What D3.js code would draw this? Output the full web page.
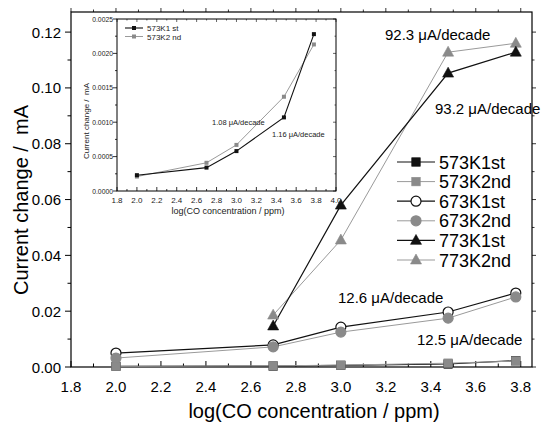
<!DOCTYPE html>
<html><head><meta charset="utf-8">
<script src="https://cdn.jsdelivr.net/npm/d3@7"></script>
<style>body{margin:0;background:#fff}svg{display:block;font-family:Arial,"Liberation Sans",sans-serif}</style>
</head><body>
<svg id="c" width="542" height="423"></svg>
<script>
// ---- data ----
const logConc = [2.0, 2.699, 3.0, 3.477, 3.778];
const s573K1st = [0.00023, 0.00034, 0.00058, 0.00107, 0.00228];
const s573K2nd = [0.00021, 0.00041, 0.00067, 0.00137, 0.00213];
const s673K1st = [0.0050, 0.0079, 0.0143, 0.0197, 0.0265];
const s673K2nd = [0.0032, 0.0072, 0.0125, 0.0175, 0.0251];
const log773 = [2.699, 3.0, 3.477, 3.778];
const s773K1st = [0.0147, 0.0580, 0.1053, 0.1128];
const s773K2nd = [0.0186, 0.0455, 0.1128, 0.1160];
const seriesNames = ["573K1st","573K2nd","673K1st","673K2nd","773K1st","773K2nd"];
const xTicks = [1.8,2.0,2.2,2.4,2.6,2.8,3.0,3.2,3.4,3.6,3.8];
const yTicks = [0,0.02,0.04,0.06,0.08,0.10,0.12];
const insetXTicks = [1.8,2.0,2.2,2.4,2.6,2.8,3.0,3.2,3.4,3.6,3.8,4.0];
const insetYTicks = [0,0.0005,0.0010,0.0015,0.0020,0.0025];
const insetNames = ["573K1 st","573K2 nd"];
const annotations = [
  {t:"92.3 \u03bcA/decade"},{t:"93.2 \u03bcA/decade"},{t:"12.6 \u03bcA/decade"},{t:"12.5 \u03bcA/decade"}];
const insetAnn = ["1.08 \u03bcA/decade","1.16 \u03bcA/decade"];

const svg = d3.select("#c");
const BLK="#111", GRY="#8a8a8a", GRYL="#9a9a9a";

// ---- main scales ----
const L=71,R=532,T=12,B=367;
const x = d3.scaleLinear().domain([1.8,3.85]).range([L,R]);
const y = d3.scaleLinear().domain([0,0.1272]).range([B,T]);

const g = svg.append("g");
// frame
g.append("rect").attr("x",L).attr("y",T).attr("width",R-L).attr("height",B-T)
 .attr("fill","none").attr("stroke","#000").attr("stroke-width",1.2);

// x ticks (inside, bottom)
const xMinor = d3.range(18,39).map(d=>d/10);
g.selectAll(".xm").data(xMinor).join("line")
 .attr("x1",d=>x(d)).attr("x2",d=>x(d)).attr("y1",B).attr("y2",d=>B-(Math.round(d*10)%2===0?6:3.5))
 .attr("stroke","#000").attr("stroke-width",1);
g.selectAll(".xt").data(xMinor).join("line")
 .attr("x1",d=>x(d)).attr("x2",d=>x(d)).attr("y1",T).attr("y2",d=>T-(Math.round(d*10)%2===0?4:2.5))
 .attr("stroke","#000").attr("stroke-width",0.8);
g.selectAll(".xl").data(xTicks).join("text")
 .attr("x",d=>x(d)).attr("y",392).attr("text-anchor","middle").attr("font-size",15)
 .text(d=>d3.format(".1f")(d));
// y ticks (outside, left)
const yMinor = d3.range(0,13).map(d=>d/100);
g.selectAll(".ym").data(yMinor).join("line")
 .attr("x1",L).attr("x2",d=>L-(Math.round(d*100)%2===0?6:3.5)).attr("y1",d=>y(d)).attr("y2",d=>y(d))
 .attr("stroke","#000").attr("stroke-width",1);
g.selectAll(".yr").data(yMinor).join("line")
 .attr("x1",R).attr("x2",d=>R+(Math.round(d*100)%2===0?4:2.5)).attr("y1",d=>y(d)).attr("y2",d=>y(d))
 .attr("stroke","#000").attr("stroke-width",0.8);
g.selectAll(".yl").data(yTicks).join("text")
 .attr("x",61).attr("y",d=>y(d)+5.5).attr("text-anchor","end").attr("font-size",15)
 .text(d=>d3.format(".2f")(d));
// axis titles
g.append("text").attr("x",314).attr("y",418).attr("text-anchor","middle").attr("font-size",20)
 .text("log(CO concentration / ppm)");
g.append("text").attr("transform","translate(28,200) rotate(-90)").attr("text-anchor","middle")
 .attr("font-size",20).attr("xml:space","preserve").text("Current change /  mA");

// ---- markers ----
function marker(sel, type, fill, stroke, s){
  if(type==="square") sel.append("rect").attr("x",-s/2).attr("y",-s/2).attr("width",s).attr("height",s).attr("fill",fill).attr("stroke",stroke).attr("stroke-width",0.6);
  else if(type==="circle") sel.append("circle").attr("r",s/2).attr("fill",fill).attr("stroke",stroke).attr("stroke-width",1.2);
  else if(type==="tri"){ const h=s*0.9; sel.append("path").attr("d",`M0,${-h*0.6}L${s/2},${h*0.4}L${-s/2},${h*0.4}Z`).attr("fill",fill).attr("stroke",stroke).attr("stroke-width",0.6);}
}
const mainSeries = [
  {name:seriesNames[0],xs:logConc,ys:s573K1st,line:BLK,lw:1.2,type:"square",fill:BLK,stroke:BLK,s:8.5},
  {name:seriesNames[1],xs:logConc,ys:s573K2nd,line:GRYL,lw:1,type:"square",fill:GRY,stroke:GRY,s:8.5},
  {name:seriesNames[2],xs:logConc,ys:s673K1st,line:BLK,lw:1.2,type:"circle",fill:"#fff",stroke:BLK,s:10},
  {name:seriesNames[3],xs:logConc,ys:s673K2nd,line:GRYL,lw:1,type:"circle",fill:GRY,stroke:GRY,s:10},
  {name:seriesNames[4],xs:log773,ys:s773K1st,line:BLK,lw:1.2,type:"tri",fill:BLK,stroke:BLK,s:11},
  {name:seriesNames[5],xs:log773,ys:s773K2nd,line:GRYL,lw:1,type:"tri",fill:GRY,stroke:GRY,s:11}
];
const lineGen = d3.line().x(d=>x(d[0])).y(d=>y(d[1]));
const drawOrder=[0,1,2,3,5,4];
drawOrder.forEach(i=>{const s=mainSeries[i];
  const pts=s.xs.map((v,j)=>[v,s.ys[j]]);
  g.append("path").attr("d",lineGen(pts)).attr("fill","none").attr("stroke",s.line).attr("stroke-width",s.lw);
});
drawOrder.forEach(i=>{const s=mainSeries[i];
  s.xs.forEach((v,j)=>{ const m=g.append("g").attr("transform",`translate(${x(v)},${y(s.ys[j])})`); marker(m,s.type,s.fill,s.stroke,s.s); });
});

// legend
mainSeries.forEach((s,i)=>{
  const ly=162+i*19.6;
  const lg=g.append("g");
  lg.append("line").attr("x1",397).attr("x2",435).attr("y1",ly).attr("y2",ly).attr("stroke",s.line).attr("stroke-width",s.lw);
  marker(lg.append("g").attr("transform",`translate(416,${ly})`),s.type,s.fill,s.stroke,s.s);
  lg.append("text").attr("x",439).attr("y",ly+6.5).attr("font-size",18).text(s.name);
});

// annotations
const annPos=[[385,40],[435,114],[338,303],[417,345]];
annotations.forEach((a,i)=>g.append("text").attr("x",annPos[i][0]).attr("y",annPos[i][1]).attr("font-size",15).text(a.t));

// ---- inset ----
const iL=117,iR=336,iT=19,iB=191;
const ix=d3.scaleLinear().domain([1.8,4.0]).range([iL,iR]);
const iy=d3.scaleLinear().domain([0,0.0025]).range([iB,iT]);
const ig=svg.append("g");
ig.append("rect").attr("x",iL).attr("y",iT).attr("width",iR-iL).attr("height",iB-iT).attr("fill","#fff").attr("stroke","#000").attr("stroke-width",1);
const ixMinor=d3.range(18,41).map(d=>d/10);
ig.selectAll(".a").data(ixMinor).join("line").attr("x1",d=>ix(d)).attr("x2",d=>ix(d)).attr("y1",iB).attr("y2",d=>iB-(Math.round(d*10)%2===0?4:2)).attr("stroke","#000").attr("stroke-width",0.8);
ig.selectAll(".b").data(ixMinor).join("line").attr("x1",d=>ix(d)).attr("x2",d=>ix(d)).attr("y1",iT).attr("y2",d=>iT+(Math.round(d*10)%2===0?3:1.5)).attr("stroke","#000").attr("stroke-width",0.6);
const iyMinor=d3.range(0,11).map(d=>d*0.00025);
ig.selectAll(".c").data(iyMinor).join("line").attr("x1",iL).attr("x2",(d,i)=>iL-(i%2===0?4:2)).attr("y1",d=>iy(d)).attr("y2",d=>iy(d)).attr("stroke","#000").attr("stroke-width",0.8);
ig.selectAll(".d").data(iyMinor).join("line").attr("x1",iR).attr("x2",(d,i)=>iR-(i%2===0?3:1.5)).attr("y1",d=>iy(d)).attr("y2",d=>iy(d)).attr("stroke","#000").attr("stroke-width",0.6);
ig.selectAll(".e").data(insetXTicks).join("text").attr("x",d=>ix(d)).attr("y",203).attr("text-anchor","middle").attr("font-size",8).attr("fill","#222").text(d=>d3.format(".1f")(d));
ig.selectAll(".f").data(insetYTicks).join("text").attr("x",113).attr("y",d=>iy(d)+2.5).attr("text-anchor","end").attr("font-size",6.8).attr("fill","#222").text(d=>d3.format(".4f")(d));
ig.append("text").attr("x",228).attr("y",214).attr("text-anchor","middle").attr("font-size",9).attr("fill","#222").text("log(CO concentration / ppm)");
ig.append("text").attr("transform","translate(89,121) rotate(-90)").attr("text-anchor","middle").attr("font-size",8).attr("fill","#222").attr("xml:space","preserve").text("Current change /  mA");
const iline=d3.line().x(d=>ix(d[0])).y(d=>iy(d[1]));
const insetSeries=[{ys:s573K1st,c:BLK,lw:1.1},{ys:s573K2nd,c:GRYL,lw:1}];
[1,0].forEach(i=>{const s=insetSeries[i];
  ig.append("path").attr("d",iline(logConc.map((v,j)=>[v,s.ys[j]]))).attr("fill","none").attr("stroke",s.c).attr("stroke-width",s.lw);
});
[1,0].forEach(i=>{const s=insetSeries[i];
  logConc.forEach((v,j)=>ig.append("rect").attr("x",ix(v)-2).attr("y",iy(s.ys[j])-2).attr("width",4).attr("height",4).attr("fill",i===0?BLK:GRY));
});
insetNames.forEach((n,i)=>{const ly=28+i*8.5; const s=insetSeries[i];
  ig.append("line").attr("x1",125).attr("x2",143).attr("y1",ly).attr("y2",ly).attr("stroke",s.c).attr("stroke-width",s.lw);
  ig.append("rect").attr("x",132).attr("y",ly-2).attr("width",4).attr("height",4).attr("fill",i===0?BLK:GRY);
  ig.append("text").attr("x",147).attr("y",ly+3).attr("font-size",8).attr("fill","#222").text(n);
});
ig.append("text").attr("x",212).attr("y",125).attr("font-size",7.5).attr("fill","#222").text(insetAnn[0]);
ig.append("text").attr("x",272).attr("y",137).attr("font-size",7.5).attr("fill","#222").text(insetAnn[1]);
</script>
</body></html>
